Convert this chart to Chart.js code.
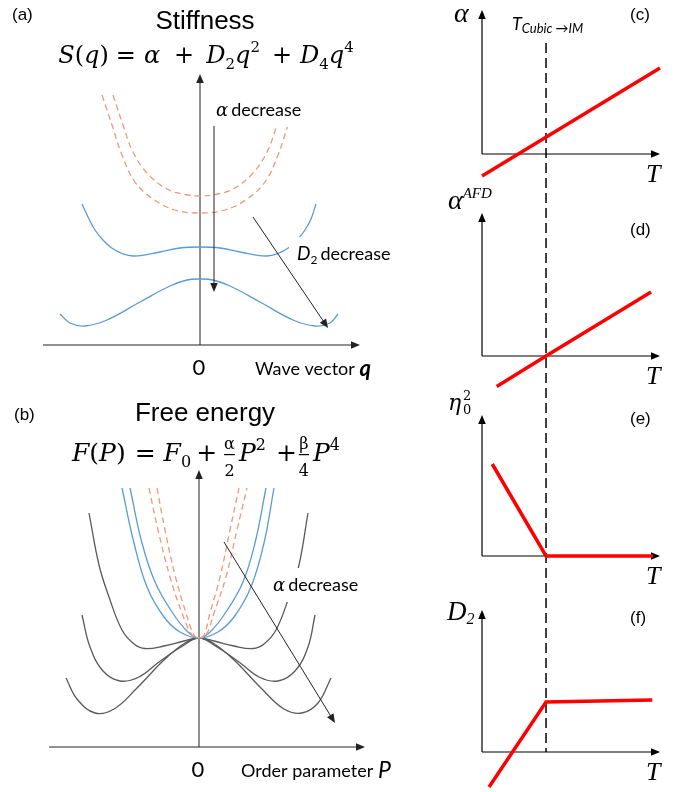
<!DOCTYPE html>
<html>
<head>
<meta charset="utf-8">
<script src="https://cdn.jsdelivr.net/npm/chart.js@4.4.0/dist/chart.umd.min.js"></script>
<style>
  body { margin: 0; background: #fff; }
  #page { position: relative; width: 684px; height: 792px; background: #fff; }
  canvas { position: absolute; }
</style>
</head>
<body>
<div id="page">
  <canvas id="stiffness" width="440" height="390" style="left:0;top:0"></canvas>
  <canvas id="freeEnergy" width="440" height="402" style="left:0;top:390px"></canvas>
  <canvas id="tempCol" width="244" height="792" style="left:440px;top:0"></canvas>
</div>
<script>
// ---- (a) stiffness S(q), points as [q, S] ----
const stiffAlphaHigh = [[-0.87, 2.50], [-0.77, 2.20], [-0.67, 1.93], [-0.53, 1.72], [-0.33, 1.56], [-0.15, 1.505], [0, 1.49],
  [0.15, 1.505], [0.33, 1.56], [0.53, 1.72], [0.67, 1.93], [0.77, 2.20], [0.87, 2.50]];
const stiffAlphaLow = [[-0.98, 2.50], [-0.88, 2.20], [-0.78, 1.90], [-0.65, 1.63], [-0.47, 1.46], [-0.25, 1.35], [0, 1.32],
  [0.25, 1.35], [0.47, 1.46], [0.65, 1.63], [0.78, 1.90], [0.88, 2.20], [0.98, 2.50]];
const stiffD2Mid = [[-1.18, 1.41], [-1.11, 1.26], [-1.05, 1.15], [-0.98, 1.06], [-0.89, 0.975], [-0.78, 0.915], [-0.66, 0.89], [-0.40, 0.93], [-0.20, 0.97], [0, 0.98],
  [0.20, 0.97], [0.40, 0.93], [0.66, 0.89], [0.78, 0.915], [0.89, 0.975], [0.98, 1.06], [1.05, 1.15], [1.11, 1.26], [1.16, 1.41]];
const stiffD2Low = [[-1.40, 0.31], [-1.30, 0.22], [-1.15, 0.19], [-0.93, 0.25], [-0.60, 0.43], [-0.30, 0.59], [-0.13, 0.65], [0, 0.66],
  [0.13, 0.65], [0.30, 0.59], [0.60, 0.43], [0.93, 0.25], [1.15, 0.19], [1.30, 0.22], [1.38, 0.31]];

// ---- (b) free energy F(P), points as [P, F] ----
const freeDashOuter = [[-0.50, 2.59], [-0.41, 2.17], [-0.29, 1.70], [-0.17, 1.34], [-0.07, 1.12], [0, 1.09],
  [0.07, 1.12], [0.15, 1.34], [0.27, 1.70], [0.38, 2.17], [0.48, 2.59]];
const freeDashInner = [[-0.42, 2.59], [-0.34, 2.17], [-0.24, 1.72], [-0.13, 1.34], [-0.05, 1.12], [0, 1.09],
  [0.05, 1.12], [0.11, 1.34], [0.21, 1.70], [0.31, 2.17], [0.40, 2.59]];
const freeBlueOuter = [[-0.77, 2.59], [-0.65, 2.04], [-0.52, 1.60], [-0.35, 1.30], [-0.19, 1.15], [0, 1.09],
  [0.19, 1.15], [0.35, 1.30], [0.52, 1.60], [0.65, 2.04], [0.75, 2.59]];
const freeBlueInner = [[-0.69, 2.59], [-0.57, 2.04], [-0.44, 1.65], [-0.27, 1.35], [-0.12, 1.16], [0, 1.09],
  [0.12, 1.16], [0.27, 1.35], [0.44, 1.65], [0.56, 2.04], [0.67, 2.59]];
const freeBlack1 = [[-1.10, 2.34], [-1.00, 1.82], [-0.90, 1.50], [-0.77, 1.17], [-0.65, 1.03], [-0.54, 0.985], [-0.35, 1.01], [-0.15, 1.06], [0, 1.09],
  [0.15, 1.06], [0.35, 1.01], [0.54, 0.985], [0.65, 1.03], [0.77, 1.17], [0.90, 1.50], [1.00, 1.82], [1.09, 2.34]];
const freeBlack2 = [[-1.17, 1.32], [-1.09, 1.00], [-0.96, 0.76], [-0.79, 0.66], [-0.60, 0.70], [-0.40, 0.85], [-0.18, 1.00], [0, 1.09],
  [0.18, 1.00], [0.40, 0.85], [0.60, 0.70], [0.79, 0.66], [0.96, 0.76], [1.09, 1.00], [1.16, 1.32]];
const freeBlack3 = [[-1.33, 0.69], [-1.22, 0.48], [-1.04, 0.34], [-0.85, 0.38], [-0.62, 0.59], [-0.35, 0.87], [-0.14, 1.04], [0, 1.09],
  [0.14, 1.04], [0.35, 0.87], [0.62, 0.59], [0.85, 0.38], [1.03, 0.34], [1.19, 0.44], [1.32, 0.69]];

// ---- (c)-(f) coefficients against temperature, points as [T, value] ----
const tTransition = 1.0;
const alphaVsT = [[0, -0.44], [2.78, 1.72]];
const alphaAfdVsT = [[0.23, -0.61], [1.0, 0], [2.64, 1.28]];
const eta0SqVsT = [[0.16, 1.84], [1.0, 0], [2.67, 0]];
const d2VsT = [[0.11, -0.70], [1.0, 1.0], [2.66, 1.04]];
const tAxisMax = 2.78;

const BLUE = '#5B9BD5';
const SALMON = 'rgb(241,152,120)';
const GREY = '#595959';
const RED = '#FF0000';

const serifIt = s => `italic ${s}px "DejaVu Serif"`;
const serifUp = s => `${s}px "DejaVu Serif"`;
const timesIt = s => `italic ${s}px "Liberation Serif"`;
const sans = s => `${s}px "Liberation Sans"`;
const lato = s => `${s}px Lato`;
const latoIt = s => `italic ${s}px Lato`;

function curve(points, color, dashed) {
  return {
    data: points.map(([x, y]) => ({ x, y })),
    showLine: true,
    borderColor: color,
    borderWidth: 1.3,
    borderDash: dashed ? [6, 4] : [],
    pointRadius: 0,
    tension: 0.4,
    clip: false
  };
}

function redLine(points, axis) {
  return {
    data: points.map(([x, y]) => ({ x, y })),
    yAxisID: axis,
    showLine: true,
    borderColor: RED,
    borderWidth: 3.5,
    pointRadius: 0,
    tension: 0,
    clip: false
  };
}

function arrow(ctx, x1, y1, x2, y2, color, width, head) {
  head = head || 8;
  const a = Math.atan2(y2 - y1, x2 - x1);
  const c = Math.cos(a), s = Math.sin(a);
  ctx.save();
  ctx.strokeStyle = color;
  ctx.fillStyle = color;
  ctx.lineWidth = width;
  ctx.beginPath();
  ctx.moveTo(x1, y1);
  ctx.lineTo(x2 - c * head * 0.7, y2 - s * head * 0.7);
  ctx.stroke();
  ctx.beginPath();
  ctx.moveTo(x2, y2);
  ctx.lineTo(x2 - head * c + head * 0.42 * s, y2 - head * s - head * 0.42 * c);
  ctx.lineTo(x2 - head * c - head * 0.42 * s, y2 - head * s + head * 0.42 * c);
  ctx.closePath();
  ctx.fill();
  ctx.restore();
}

// lays out a row of text pieces; pieces can be raised/lowered or be a small fraction
function textRow(ctx, x, y, parts, align) {
  let total = 0;
  parts.forEach(p => {
    ctx.font = p.f;
    if (p.num) {
      p.w = Math.max(ctx.measureText(p.num).width, ctx.measureText(p.den).width) + 2 + (p.gap || 0);
    } else {
      p.w = ctx.measureText(p.t).width + (p.gap || 0);
    }
    total += p.w;
  });
  let cx = align === 'center' ? x - total / 2 : x;
  ctx.save();
  ctx.fillStyle = '#000';
  ctx.textBaseline = 'alphabetic';
  parts.forEach(p => {
    ctx.font = p.f;
    if (p.num) {
      const fw = p.w - (p.gap || 0);
      ctx.textAlign = 'center';
      ctx.fillText(p.num, cx + fw / 2, y - 12);
      ctx.fillText(p.den, cx + fw / 2, y + 15);
      ctx.fillRect(cx + 1, y - 7, fw - 2, 1.2);
      ctx.textAlign = 'left';
    } else {
      ctx.textAlign = 'left';
      ctx.fillText(p.t, cx, y + (p.dy || 0));
    }
    cx += p.w;
  });
  ctx.restore();
  return total;
}

// text label with a white box behind it (it hides the curve where it passes)
function boxedLabel(ctx, x, y, parts) {
  let total = 0;
  parts.forEach(p => { ctx.font = p.f; total += ctx.measureText(p.t).width + (p.gap || 0); });
  ctx.save();
  ctx.fillStyle = '#fff';
  ctx.fillRect(x - 8, y - 17, total + 16, 34);
  ctx.restore();
  textRow(ctx, x, y + 6, parts, 'left');
}

function leftPanelPlugin(cfg) {
  return {
    id: 'panel_' + cfg.letter,
    beforeDatasetsDraw(chart) {
      const { ctx, chartArea: area, scales: { x, y } } = chart;
      const x0 = x.getPixelForValue(0), y0 = y.getPixelForValue(0);
      arrow(ctx, area.left, y0, area.right, y0, '#222', 1, 9);
      arrow(ctx, x0, area.bottom, x0, area.top, '#222', 1, 9);
    },
    afterDatasetsDraw(chart) {
      const { ctx, scales: { x, y } } = chart;
      cfg.labels.forEach(l => boxedLabel(ctx, x.getPixelForValue(l.at[0]), y.getPixelForValue(l.at[1]), l.parts));
      cfg.arrows.forEach(a => arrow(ctx, x.getPixelForValue(a[0][0]), y.getPixelForValue(a[0][1]),
        x.getPixelForValue(a[1][0]), y.getPixelForValue(a[1][1]), '#222', 1, 9));
    },
    afterDraw(chart) {
      const { ctx, scales: { x, y } } = chart;
      const x0 = x.getPixelForValue(0), y0 = y.getPixelForValue(0);
      ctx.save();
      ctx.fillStyle = '#000';
      ctx.textBaseline = 'middle';
      ctx.font = sans(17);
      ctx.textAlign = 'left';
      ctx.fillText(cfg.letter, cfg.letterPos[0], cfg.letterPos[1]);
      ctx.font = sans(26);
      ctx.textAlign = 'center';
      ctx.fillText(cfg.title, 205, cfg.titleY);
      ctx.font = lato(22);
      ctx.fillText('0', x0 - 1, y0 + 23);
      ctx.restore();
      textRow(ctx, cfg.axisTitleX, y0 + 30, cfg.axisTitle, 'left');
      textRow(ctx, 206, cfg.eqY, cfg.equation, 'center');
    }
  };
}

function makeLeftChart(id, datasets, range, padding, cfg) {
  return new Chart(document.getElementById(id), {
    type: 'scatter',
    data: { datasets },
    options: {
      responsive: false,
      animation: false,
      events: [],
      layout: { padding },
      plugins: { legend: { display: false }, tooltip: { enabled: false } },
      scales: {
        x: { type: 'linear', display: false, min: range.x[0], max: range.x[1] },
        y: { type: 'linear', display: false, min: range.y[0], max: range.y[1] }
      }
    },
    plugins: [leftPanelPlugin(cfg)]
  });
}

// (a) Stiffness
makeLeftChart('stiffness', [
  curve(stiffAlphaHigh, SALMON, true),
  curve(stiffAlphaLow, SALMON, true),
  curve(stiffD2Mid, BLUE, false),
  curve(stiffD2Low, BLUE, false)
], { x: [-1.57, 1.60], y: [0, 2.71] }, { left: 43, top: 74, right: 80, bottom: 45 }, {
  letter: '(a)', letterPos: [12, 15],
  title: 'Stiffness', titleY: 22,
  eqY: 63,
  equation: [
    { t: 'S', f: serifIt(24) }, { t: '(', f: serifUp(24) }, { t: 'q', f: serifIt(24) }, { t: ')', f: serifUp(24), gap: 7 },
    { t: '=', f: serifUp(24), gap: 8 }, { t: 'α', f: serifIt(24), gap: 14 }, { t: '+', f: serifUp(24), gap: 12 },
    { t: 'D', f: serifIt(24) }, { t: '2', f: serifUp(15), dy: 6 }, { t: 'q', f: serifIt(24) }, { t: '2', f: serifUp(15), dy: -11, gap: 12 },
    { t: '+', f: serifUp(24), gap: 8 },
    { t: 'D', f: serifIt(24) }, { t: '4', f: serifUp(15), dy: 6 }, { t: 'q', f: serifIt(24) }, { t: '4', f: serifUp(15), dy: -11 }
  ],
  axisTitleX: 255,
  axisTitle: [{ t: 'Wave vector ', f: lato(18) }, { t: 'q', f: 'italic bold 22px Lato', dy: 1 }],
  labels: [
    { at: [0.16, 2.35], parts: [{ t: 'α', f: serifIt(18), gap: 3 }, { t: 'decrease', f: lato(18) }] },
    { at: [0.97, 0.91], parts: [{ t: 'D', f: latoIt(19) }, { t: '2', f: lato(12), dy: 4, gap: 3 }, { t: 'decrease', f: lato(18) }] }
  ],
  arrows: [
    [[0.14, 2.19], [0.14, 0.53]],
    [[0.53, 1.28], [1.28, 0.17]]
  ]
});

// (b) Free energy
makeLeftChart('freeEnergy', [
  curve(freeDashOuter, SALMON, true),
  curve(freeDashInner, SALMON, true),
  curve(freeBlueOuter, BLUE, false),
  curve(freeBlueInner, BLUE, false),
  curve(freeBlack1, GREY, false),
  curve(freeBlack2, GREY, false),
  curve(freeBlack3, GREY, false)
], { x: [-1.50, 1.66], y: [0, 2.77] }, { left: 49, top: 80, right: 75, bottom: 45 }, {
  letter: '(b)', letterPos: [14, 25],
  title: 'Free energy', titleY: 24,
  eqY: 71,
  equation: [
    { t: 'F', f: serifIt(25) }, { t: '(', f: serifUp(25) }, { t: 'P', f: serifIt(25) }, { t: ')', f: serifUp(25), gap: 9 },
    { t: '=', f: serifUp(25), gap: 8 }, { t: 'F', f: serifIt(25) }, { t: '0', f: serifUp(16), dy: 6, gap: 5 },
    { t: '+', f: serifUp(25), gap: 6 }, { num: 'α', den: '2', f: serifUp(16), gap: 3 },
    { t: 'P', f: serifIt(25) }, { t: '2', f: serifUp(16), dy: -11, gap: 10 },
    { t: '+', f: serifUp(25), gap: 1 }, { num: 'β', den: '4', f: serifUp(16), gap: 3 },
    { t: 'P', f: serifIt(25) }, { t: '4', f: serifUp(16), dy: -11 }
  ],
  axisTitleX: 241,
  axisTitle: [{ t: 'Order parameter ', f: lato(18) }, { t: 'P', f: 'italic 23px Lato', dy: 1 }],
  labels: [
    { at: [0.74, 1.62], parts: [{ t: 'α', f: serifIt(18), gap: 3 }, { t: 'decrease', f: lato(18) }] }
  ],
  arrows: [
    [[0.25, 2.05], [1.36, 0.24]]
  ]
});

// (c)-(f): one chart, four y scales sharing the temperature axis
const colHeight = 792;
const pxPerUnit = 50;
const tempPanels = [
  { axis: 'yC', zero: 154, top: 10, letter: '(c)', letterY: 15 },
  { axis: 'yD', zero: 356, top: 213, letter: '(d)', letterY: 230 },
  { axis: 'yE', zero: 556, top: 415, letter: '(e)', letterY: 419 },
  { axis: 'yF', zero: 752, top: 610, letter: '(f)', letterY: 618 }
];
const tempScales = { x: { type: 'linear', display: false, min: 0, max: tAxisMax } };
tempPanels.forEach(p => {
  tempScales[p.axis] = { type: 'linear', display: false, position: 'left',
    min: (p.zero - colHeight) / pxPerUnit, max: p.zero / pxPerUnit };
});

const tempPlugin = {
  id: 'tempPanels',
  beforeDatasetsDraw(chart) {
    const { ctx, scales } = chart;
    const xs = scales.x;
    const x0 = xs.getPixelForValue(0), xEnd = xs.getPixelForValue(tAxisMax);
    tempPanels.forEach(p => {
      const ys = scales[p.axis];
      const y0 = ys.getPixelForValue(0);
      arrow(ctx, x0, y0, xEnd, y0, '#000', 1.2, 9);
      arrow(ctx, x0, y0, x0, p.top, '#000', 1.2, 9);
    });
    const xt = xs.getPixelForValue(tTransition);
    ctx.save();
    ctx.strokeStyle = '#000';
    ctx.lineWidth = 1.5;
    ctx.setLineDash([10, 5]);
    ctx.beginPath();
    ctx.moveTo(xt, 43);
    ctx.lineTo(xt, scales.yF.getPixelForValue(0));
    ctx.stroke();
    ctx.restore();
  },
  afterDraw(chart) {
    const { ctx, scales } = chart;
    ctx.save();
    ctx.fillStyle = '#000';
    ctx.textBaseline = 'middle';
    ctx.textAlign = 'left';
    ctx.font = sans(17);
    tempPanels.forEach(p => ctx.fillText(p.letter, 190, p.letterY));
    ctx.textBaseline = 'alphabetic';
    ctx.font = timesIt(26);
    tempPanels.forEach(p => ctx.fillText('T', 206, scales[p.axis].getPixelForValue(0) + 28));
    ctx.restore();

    textRow(ctx, 14, 22, [{ t: 'α', f: timesIt(28) }], 'left');
    textRow(ctx, 72, 30, [{ t: 'T', f: latoIt(18), gap: 0 }, { t: 'Cubic →IM', f: latoIt(13), dy: 3 }], 'left');
    textRow(ctx, 8, 209, [{ t: 'α', f: timesIt(28) }, { t: 'AFD', f: timesIt(15), dy: -11 }], 'left');
    textRow(ctx, 8, 410, [{ t: 'η', f: serifIt(22) }], 'left');
    ctx.save();
    ctx.fillStyle = '#000';
    ctx.font = serifUp(13);
    ctx.fillText('2', 23, 400);
    ctx.fillText('0', 23, 414);
    ctx.restore();
    textRow(ctx, 7, 620, [{ t: 'D', f: timesIt(27) }, { t: '2', f: timesIt(16), dy: 4 }], 'left');
  }
};

new Chart(document.getElementById('tempCol'), {
  type: 'scatter',
  data: {
    datasets: [
      redLine(alphaVsT, 'yC'),
      redLine(alphaAfdVsT, 'yD'),
      redLine(eta0SqVsT, 'yE'),
      redLine(d2VsT, 'yF')
    ]
  },
  options: {
    responsive: false,
    animation: false,
    events: [],
    layout: { padding: { left: 42, right: 24, top: 0, bottom: 0 } },
    plugins: { legend: { display: false }, tooltip: { enabled: false } },
    scales: tempScales
  },
  plugins: [tempPlugin]
});
</script>
</body>
</html>
